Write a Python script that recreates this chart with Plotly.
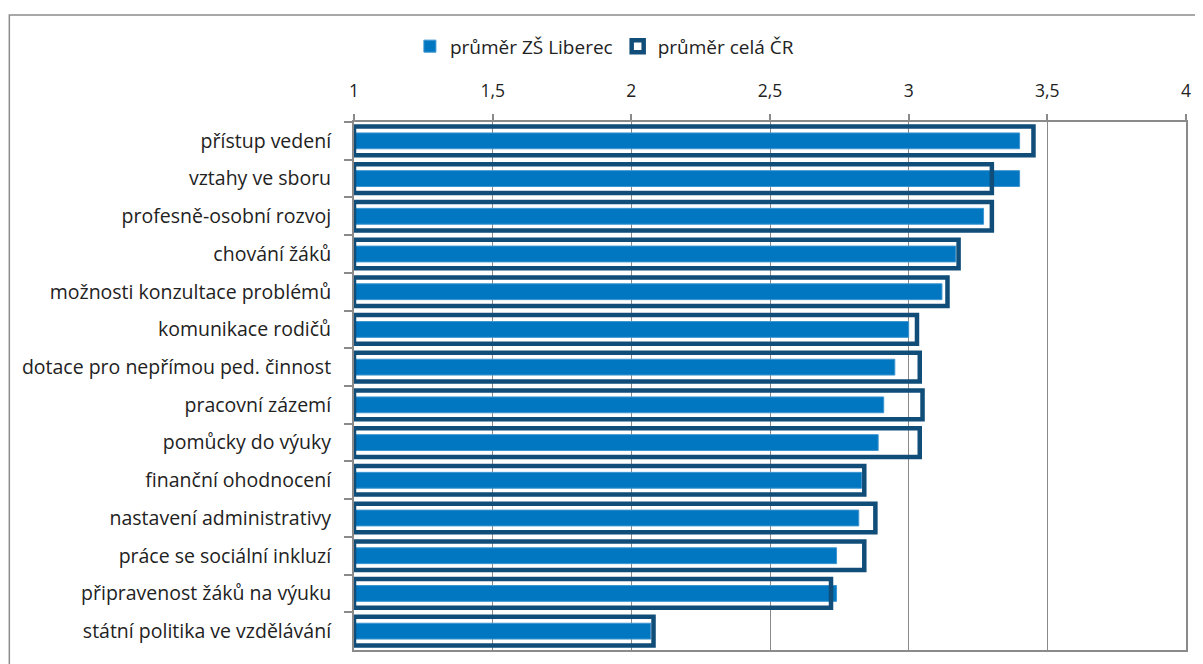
import plotly.graph_objects as go

categories = [
    "přístup vedení",
    "vztahy ve sboru",
    "profesně-osobní rozvoj",
    "chování žáků",
    "možnosti konzultace problémů",
    "komunikace rodičů",
    "dotace pro nepřímou ped. činnost",
    "pracovní zázemí",
    "pomůcky do výuky",
    "finanční ohodnocení",
    "nastavení administrativy",
    "práce se sociální inkluzí",
    "připravenost žáků na výuku",
    "státní politika ve vzdělávání",
]
liberec = [3.40, 3.40, 3.27, 3.17, 3.12, 3.00, 2.95, 2.91, 2.89, 2.83, 2.82, 2.74, 2.74, 2.07]
cr = [3.45, 3.30, 3.30, 3.18, 3.14, 3.03, 3.04, 3.05, 3.04, 2.84, 2.88, 2.84, 2.72, 2.08]
x_ticks = [1, 1.5, 2, 2.5, 3, 3.5, 4]
x_tick_labels = ["1", "1,5", "2", "2,5", "3", "3,5", "4"]
axis_min = 1

FONT = "Open Sans"
TXT = "#222222"
GRID = "#8a8a8a"

fig = go.Figure()
fig.add_trace(go.Bar(
    name="průměr ZŠ Liberec",
    y=categories,
    x=[v - axis_min for v in liberec],
    base=axis_min,
    orientation="h",
    width=0.42,
    marker=dict(color="#0077C0", line=dict(color="#3E95D0", width=1)),
    customdata=liberec,
    hovertemplate="%{y}: %{customdata}<extra></extra>",
))
fig.add_trace(go.Bar(
    name="průměr celá ČR",
    y=categories,
    x=[v - axis_min for v in cr],
    base=axis_min,
    orientation="h",
    width=0.76,
    marker=dict(color="rgba(255,255,255,0)", line=dict(color="#104D78", width=4.5)),
    customdata=cr,
    hovertemplate="%{y}: %{customdata}<extra></extra>",
))

# page body has an 8px margin; work in figure pixel coordinates
OFF = 8
W, H = 1203 - OFF, 664 - OFF
L, R, T, B = 354 - OFF, 1188 - OFF, 122 - OFF, 652 - OFF
pw, ph = R - L, B - T

def px_x(p):
    return (p - OFF - L) / pw

def px_y(p):
    return (B - (p - OFF)) / ph

fig.update_layout(
    width=W, height=H,
    margin=dict(l=L, r=W - R, t=T, b=H - B, pad=0),
    barmode="overlay",
    paper_bgcolor="white",
    plot_bgcolor="white",
    font=dict(family=FONT, size=17, color=TXT),
    showlegend=True,
    legend=dict(
        orientation="h",
        x=px_x(605), xanchor="center",
        y=px_y(46), yanchor="middle",
        font=dict(family=FONT, size=19, color=TXT),
        itemwidth=30,
        tracegroupgap=0,
    ),
    xaxis=dict(
        side="top",
        range=[1, 4],
        tickmode="array",
        tickvals=x_ticks,
        ticktext=x_tick_labels,
        showgrid=True,
        gridcolor=GRID,
        gridwidth=1.3,
        showline=True,
        linecolor=GRID,
        linewidth=2,
        mirror=True,
        ticks="outside",
        ticklen=6,
        tickcolor=GRID,
        tickwidth=1.5,
        ticklabelstandoff=10,
        tickfont=dict(family=FONT, size=17.5, color=TXT),
        zeroline=False,
        fixedrange=True,
    ),
    yaxis=dict(
        type="category",
        categoryorder="array",
        categoryarray=categories,
        autorange="reversed",
        showgrid=False,
        showline=True,
        linecolor=GRID,
        linewidth=2,
        mirror=True,
        ticks="outside",
        tickson="boundaries",
        ticklen=8,
        tickcolor=GRID,
        tickwidth=1.5,
        ticklabelstandoff=17,
        tickfont=dict(family=FONT, size=19.5, color=TXT),
        fixedrange=True,
    ),
    shapes=[dict(
        type="rect", xref="paper", yref="paper",
        x0=px_x(8.5), x1=px_x(1230), y0=px_y(14.5), y1=px_y(690),
        line=dict(color="#8c8c8c", width=1.5),
        fillcolor="rgba(0,0,0,0)",
        layer="below",
    )],
)

fig.write_html("out.html")
